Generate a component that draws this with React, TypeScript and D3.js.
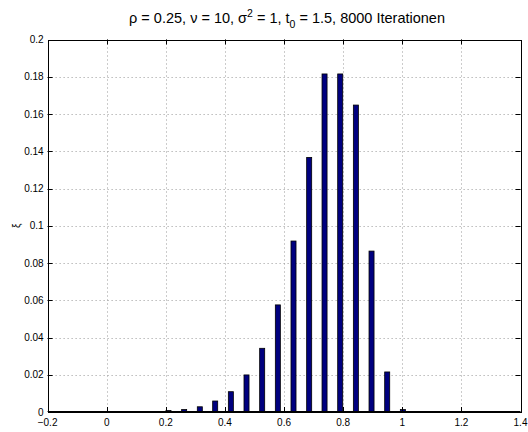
import React, { useEffect, useRef } from 'react';
import * as d3 from 'd3';

// histogram bin centers and relative frequencies
const binCenters = [0.209, 0.262, 0.315, 0.367, 0.42, 0.473, 0.526, 0.579, 0.632, 0.685, 0.737, 0.79, 0.843, 0.896, 0.949, 1.002];
const frequencies = [0.0008, 0.0013, 0.0028, 0.0059, 0.0109, 0.0199, 0.0342, 0.0575, 0.0918, 0.1367, 0.1815, 0.1815, 0.1648, 0.0864, 0.0215, 0.0013];
const xTicks = [-0.2, 0, 0.2, 0.4, 0.6, 0.8, 1, 1.2, 1.4];
const yTicks = [0, 0.02, 0.04, 0.06, 0.08, 0.1, 0.12, 0.14, 0.16, 0.18, 0.2];

export default function App() {
  const ref = useRef<SVGSVGElement>(null);

  useEffect(() => {
    const width = 528;
    const height = 432;
    const margin = { top: 39.5, right: 7.5, bottom: 20, left: 47.6 };
    const font = '"Liberation Sans", Arial, sans-serif';
    const tickLen = 5;

    const svg = d3.select(ref.current);
    svg.selectAll('*').remove();

    const x = d3.scaleLinear().domain([-0.2, 1.4]).range([margin.left, width - margin.right]);
    const y = d3.scaleLinear().domain([0, 0.2]).range([height - margin.bottom, margin.top]);
    const [x0, x1] = x.range();
    const [yb, yt] = y.range();

    svg.append('rect').attr('width', width).attr('height', height).attr('fill', '#fff');

    // grid
    const grid = svg.append('g').attr('stroke', '#999').attr('stroke-width', 1).attr('stroke-dasharray', '1,3');
    grid
      .selectAll('line.gx')
      .data(xTicks.slice(1, -1))
      .join('line')
      .attr('x1', (d) => Math.round(x(d)) + 0.5)
      .attr('x2', (d) => Math.round(x(d)) + 0.5)
      .attr('y1', yt)
      .attr('y2', yb);
    grid
      .selectAll('line.gy')
      .data(yTicks.slice(1, -1))
      .join('line')
      .attr('y1', (d) => Math.round(y(d)) + 0.5)
      .attr('y2', (d) => Math.round(y(d)) + 0.5)
      .attr('x1', x0)
      .attr('x2', x1);

    // bars
    const barW = 0.017;
    svg
      .append('g')
      .selectAll('rect')
      .data(frequencies)
      .join('rect')
      .attr('x', (d, i) => x(binCenters[i] - barW / 2))
      .attr('y', (d) => y(d))
      .attr('width', x(barW) - x(0))
      .attr('height', (d) => y(0) - y(d))
      .attr('fill', '#00007f')
      .attr('stroke', '#000')
      .attr('stroke-width', 0.8);

    // axes box and ticks
    const axes = svg.append('g').attr('stroke', '#000').attr('stroke-width', 1);
    axes
      .append('rect')
      .attr('x', Math.round(x0) + 0.5)
      .attr('y', Math.round(yt) + 0.5)
      .attr('width', Math.round(x1) - Math.round(x0))
      .attr('height', Math.round(yb) - Math.round(yt))
      .attr('fill', 'none');
    axes
      .append('line')
      .attr('x1', x0)
      .attr('x2', x1)
      .attr('y1', Math.round(yb) - 0.5)
      .attr('y2', Math.round(yb) - 0.5);
    xTicks.slice(1, -1).forEach((t) => {
      const px = Math.round(x(t)) + 0.5;
      axes.append('line').attr('x1', px).attr('x2', px).attr('y1', yb).attr('y2', yb - tickLen);
      axes.append('line').attr('x1', px).attr('x2', px).attr('y1', yt).attr('y2', yt + tickLen);
    });
    yTicks.slice(1, -1).forEach((t) => {
      const py = Math.round(y(t)) + 0.5;
      axes.append('line').attr('x1', x0).attr('x2', x0 + tickLen).attr('y1', py).attr('y2', py);
      axes.append('line').attr('x1', x1).attr('x2', x1 - tickLen).attr('y1', py).attr('y2', py);
    });

    // tick labels
    svg
      .append('g')
      .attr('font-family', font)
      .attr('font-size', 10)
      .attr('text-anchor', 'middle')
      .selectAll('text')
      .data(xTicks)
      .join('text')
      .attr('x', (d) => x(d))
      .attr('y', yb + 14)
      .text((d) => (d < 0 ? '\u2212' + String(-d) : String(d)));
    svg
      .append('g')
      .attr('font-family', font)
      .attr('font-size', 10)
      .attr('text-anchor', 'end')
      .selectAll('text')
      .data(yTicks)
      .join('text')
      .attr('x', x0 - 4)
      .attr('y', (d) => y(d) + 3.5)
      .text((d) => String(d));

    // y label
    svg
      .append('text')
      .attr('transform', `translate(20,${(yt + yb) / 2}) rotate(-90)`)
      .attr('font-family', font)
      .attr('font-size', 10)
      .attr('text-anchor', 'middle')
      .text('\u03be');

    // title
    const title = svg
      .append('text')
      .attr('x', (x0 + x1) / 2 + 3)
      .attr('y', 23)
      .attr('font-family', font)
      .attr('font-size', 14.5)
      .attr('text-anchor', 'middle');
    title.append('tspan').text('\u03c1 = 0.25, \u03bd = 10, \u03c3');
    title.append('tspan').attr('font-size', 10.5).attr('dy', -6).text('2');
    title.append('tspan').attr('dy', 6).text(' = 1, t');
    title.append('tspan').attr('font-size', 10.5).attr('dy', 5).text('0');
    title.append('tspan').attr('dy', -5).text(' = 1.5, 8000 Iterationen');
  }, []);

  return (
    <svg
      ref={ref}
      width={528}
      height={432}
      style={{ position: 'absolute', left: 0, top: 0, display: 'block' }}
    />
  );
}
